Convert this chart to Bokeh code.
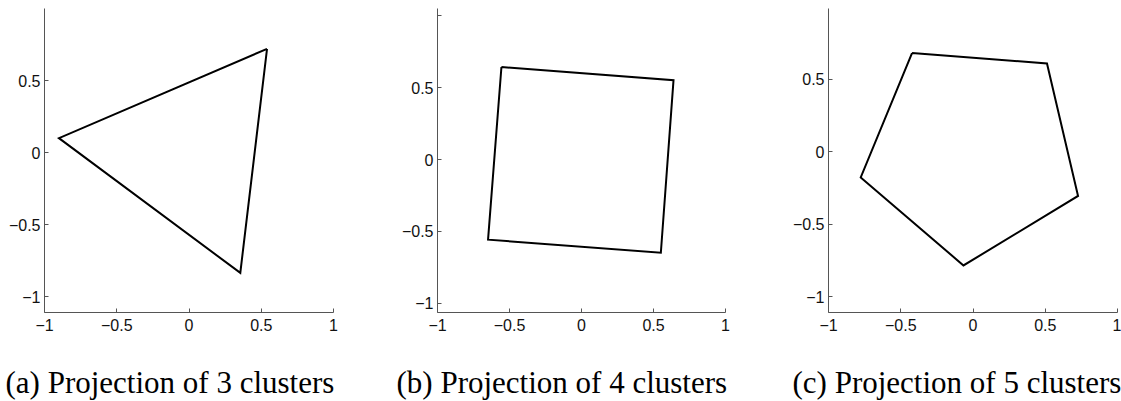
from bokeh.plotting import figure
from bokeh.layouts import row, column
from bokeh.models import Label, FixedTicker, Range1d
from bokeh.embed import file_html
from bokeh.resources import INLINE

# ---- data ----
tri_x = [0.54, -0.90, 0.355]
tri_y = [0.72, 0.10, -0.835]

sq_x = [-0.556, 0.639, 0.551, -0.649]
sq_y = [0.645, 0.553, -0.648, -0.557]

pent_x = [-0.422, 0.512, 0.727, -0.066, -0.777]
pent_y = [0.682, 0.610, -0.305, -0.785, -0.177]

x_ticks = [-1, -0.5, 0, 0.5, 1]
x_tick_labels = ["\u22121", "\u22120.5", "0", "0.5", "1"]
y_ticks = [-1, -0.5, 0, 0.5]
y_tick_labels = ["\u22121", "\u22120.5", "0", "0.5"]

captions = ["(a) Projection of 3 clusters",
            "(b) Projection of 4 clusters",
            "(c) Projection of 5 clusters"]

AX_COLOR = "#555555"
TICK_FONT = "'Liberation Sans', Arial, sans-serif"
CAP_FONT = "'Liberation Serif', 'Times New Roman', serif"
PLOT_H = 345
CAP_H = 56


def make_panel(xs, ys, width, left, right, yrange, extra_top_tick=False):
    p = figure(width=width, height=PLOT_H, output_backend="svg",
               toolbar_location=None,
               x_range=Range1d(-1, 1), y_range=Range1d(*yrange),
               min_border_left=left, min_border_right=right,
               min_border_top=8, min_border_bottom=33)
    p.outline_line_color = None
    p.xgrid.visible = False
    p.ygrid.visible = False
    p.background_fill_color = "white"
    p.border_fill_color = "white"

    p.xaxis.ticker = FixedTicker(ticks=x_ticks)
    p.xaxis.major_label_overrides = {t: l for t, l in zip(x_ticks, x_tick_labels)}
    yt = list(y_ticks) + ([1] if extra_top_tick else [])
    p.yaxis.ticker = FixedTicker(ticks=yt)
    ov = {t: l for t, l in zip(y_ticks, y_tick_labels)}
    if extra_top_tick:
        ov[1] = ""
    p.yaxis.major_label_overrides = ov

    for ax in (p.xaxis, p.yaxis):
        ax.axis_line_color = AX_COLOR
        ax.major_tick_line_color = AX_COLOR
        ax.major_tick_in = 4
        ax.major_tick_out = 0
        ax.minor_tick_line_color = None
        ax.major_label_text_font = TICK_FONT
        ax.major_label_text_font_size = "16px"
        ax.major_label_text_color = "#111111"
    p.xaxis.major_label_standoff = 6
    p.yaxis.major_label_standoff = 4

    cx = list(xs) + [xs[0]]
    cy = list(ys) + [ys[0]]
    p.line(cx, cy, line_color="black", line_width=2, line_join="miter")
    return p


def make_caption(text, width, cap_x):
    c = figure(width=width, height=CAP_H, output_backend="svg",
               toolbar_location=None,
               x_range=Range1d(0, 1), y_range=Range1d(0, 1),
               min_border_left=0, min_border_right=0,
               min_border_top=0, min_border_bottom=0)
    c.axis.visible = False
    c.grid.visible = False
    c.outline_line_color = None
    c.background_fill_color = "white"
    c.border_fill_color = "white"
    c.add_layout(Label(x=cap_x, y=19, x_units="screen", y_units="screen",
                       text=text, text_font=CAP_FONT,
                       text_font_size="31px", text_color="black",
                       text_baseline="alphabetic", text_align="left"))
    return c


widths = [393, 391, 337]
p1 = make_panel(tri_x, tri_y, widths[0], 44, 60, (-1.11, 1.0))
p2 = make_panel(sq_x, sq_y, widths[1], 44, 59, (-1.064, 1.052),
                extra_top_tick=True)
p3 = make_panel(pent_x, pent_y, widths[2], 44, 4, (-1.11, 0.99))

c1 = make_caption(captions[0], widths[0], 5)
c2 = make_caption(captions[1], widths[1], 3)
c3 = make_caption(captions[2], widths[2], 8)

layout = column(row(p1, p2, p3, spacing=0), row(c1, c2, c3, spacing=0),
                spacing=0)

open("out.html", "w").write(file_html(layout, INLINE))
